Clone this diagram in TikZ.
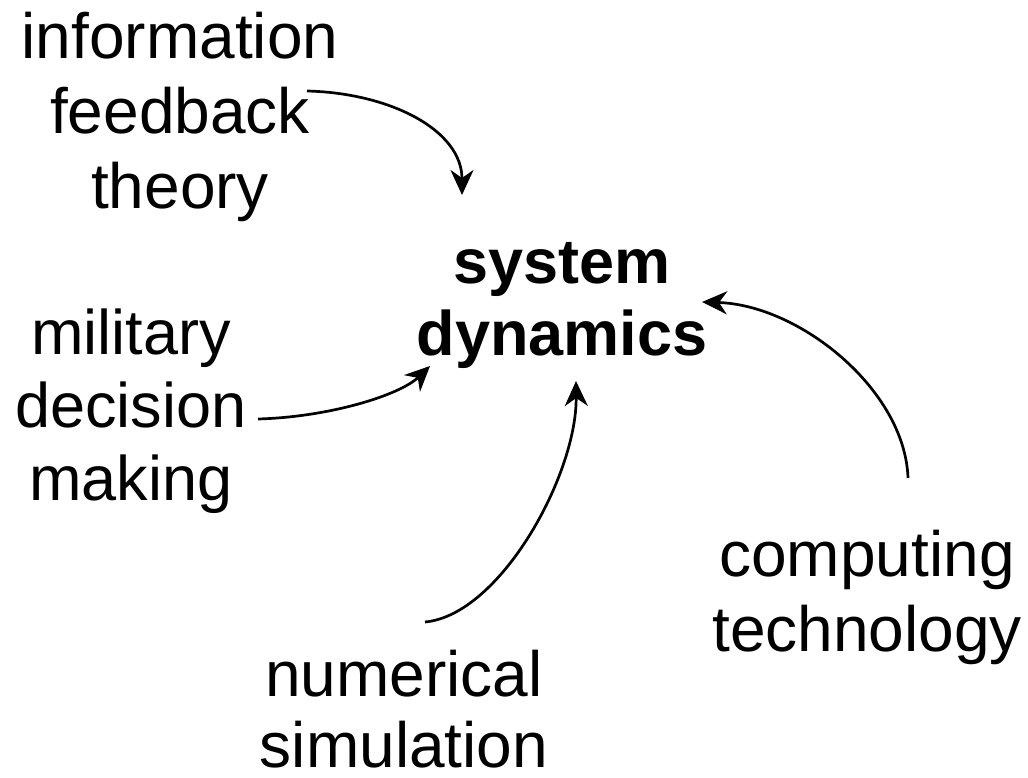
\documentclass[tikz,border=0pt]{standalone}
\usepackage{fontspec}
\setmainfont{Liberation Sans}
\usetikzlibrary{arrows.meta}
\begin{document}
\begin{tikzpicture}[x=1pt,y=-1pt,
  lbl/.style={inner sep=0pt,align=center,font=\fontsize{64}{75}\selectfont},
  conn/.style={line width=2.7pt,-{Stealth[length=25pt,width=23pt,inset=8pt]}}]
\useasboundingbox (0,0) rectangle (1028,778);
\node[lbl] (info) at (180,117) {information\\feedback\\theory};
\node[lbl,font=\fontsize{63}{72}\selectfont\bfseries] (sd) at (562,305) {system\\dynamics};
\node[lbl,font=\fontsize{63}{73}\selectfont] (mil) at (131,411) {military\\decision\\making};
\node[lbl] (comp) at (867,597) {computing\\technology};
\node[lbl,font=\fontsize{64}{71}\selectfont] (num) at (404,709) {numerical\\simulation};
\coordinate (c1s) at (307,91);
\coordinate (c1e) at (462,195);
\coordinate (c2s) at (258,419);
\coordinate (c2e) at (430,366);
\coordinate (c3s) at (425,622);
\coordinate (c3e) at (576,381);
\coordinate (c4s) at (908,478);
\coordinate (c4e) at (702,302);
\draw[conn] (c1s) .. controls (390,93) and (462,130) .. (c1e);
\draw[conn] (c2s) .. controls (330,417) and (400,395) .. (c2e);
\draw[conn] (c3s) .. controls (500,615) and (577,475) .. (c3e);
\draw[conn] (c4s) .. controls (905,390) and (800,305) .. (c4e);
\end{tikzpicture}
\end{document}
